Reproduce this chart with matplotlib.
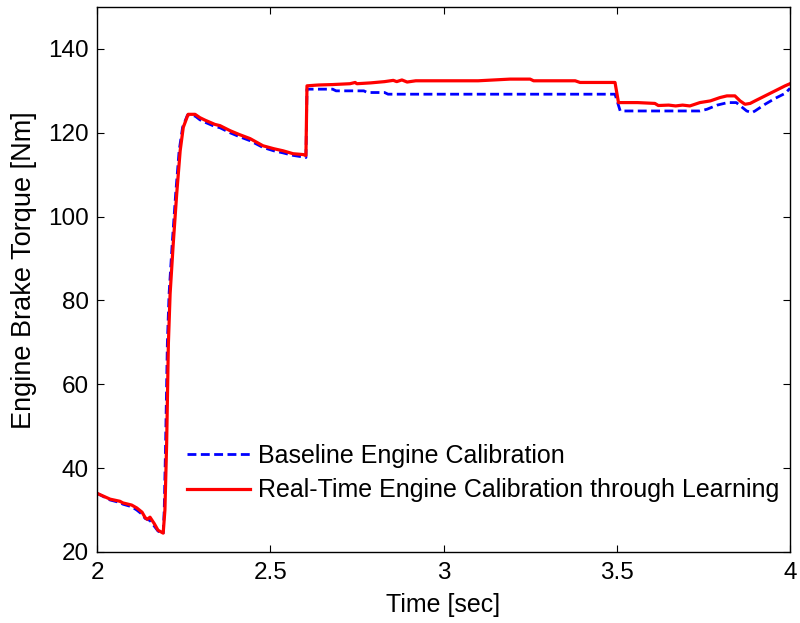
import matplotlib
matplotlib.use("Agg")
import matplotlib.pyplot as plt

# ---- data ----
t_real = [2.000, 2.038, 2.066, 2.075, 2.100, 2.115, 2.130, 2.139, 2.145, 2.153, 2.165, 2.176, 2.191,
          2.196, 2.201, 2.206, 2.211, 2.220, 2.230, 2.240, 2.249, 2.263, 2.283, 2.297, 2.312, 2.340,
          2.355, 2.384, 2.410, 2.442, 2.479, 2.510, 2.537, 2.566, 2.595, 2.603, 2.606, 2.640, 2.680,
          2.730, 2.745, 2.750, 2.790, 2.830, 2.855, 2.865, 2.880, 2.895, 2.920, 3.000, 3.100, 3.192,
          3.250, 3.260, 3.380, 3.394, 3.495, 3.505, 3.560, 3.610, 3.620, 3.650, 3.670, 3.690, 3.711,
          3.740, 3.770, 3.798, 3.818, 3.841, 3.856, 3.870, 3.885, 3.899, 3.928, 3.957, 3.986, 4.000]
v_real = [34.0, 32.6, 32.1, 31.7, 31.2, 30.5, 29.5, 28.2, 27.8, 28.3, 26.8, 25.2, 24.5,
          30.0, 45.9, 69.7, 81.6, 93.5, 105.4, 115.7, 121.3, 124.4, 124.4, 123.6, 123.0, 122.0,
          121.7, 120.5, 119.6, 118.6, 116.9, 116.2, 115.7, 115.0, 114.8, 114.6, 131.2, 131.4, 131.5,
          131.7, 132.0, 131.7, 131.9, 132.2, 132.5, 132.2, 132.6, 132.1, 132.4, 132.4, 132.4, 132.8,
          132.8, 132.4, 132.4, 132.0, 132.0, 127.2, 127.2, 127.0, 126.5, 126.6, 126.4, 126.6, 126.4,
          127.2, 127.6, 128.4, 128.8, 128.8, 127.6, 126.8, 127.0, 127.6, 128.8, 130.0, 131.2, 131.7]

t_base = [2.000, 2.038, 2.066, 2.075, 2.100, 2.115, 2.130, 2.139, 2.153, 2.165, 2.176, 2.191,
          2.194, 2.198, 2.203, 2.208, 2.217, 2.227, 2.237, 2.247, 2.261, 2.283, 2.297, 2.312, 2.340,
          2.355, 2.384, 2.410, 2.442, 2.479, 2.510, 2.537, 2.566, 2.597, 2.603, 2.606, 2.680, 2.690,
          2.770, 2.780, 2.830, 2.840, 3.495, 3.510, 3.740, 3.760, 3.790, 3.820, 3.845, 3.860, 3.875,
          3.890, 3.899, 3.928, 3.957, 3.986, 4.000]
v_base = [34.0, 32.4, 31.8, 31.4, 30.8, 30.0, 29.0, 28.0, 27.5, 26.2, 25.0, 24.3,
          30.0, 45.9, 69.7, 81.6, 93.5, 105.4, 115.7, 121.3, 124.2, 124.0, 123.1, 122.5, 121.5,
          121.2, 120.0, 119.1, 118.1, 116.5, 115.7, 115.2, 114.6, 114.2, 114.1, 130.4, 130.4, 130.0,
          130.0, 129.6, 129.6, 129.2, 129.2, 125.2, 125.2, 125.6, 126.6, 127.2, 127.2, 126.2, 125.2,
          124.8, 125.2, 126.8, 128.2, 129.4, 130.6]

label_base = "Baseline Engine Calibration"
label_real = "Real-Time Engine Calibration through Learning"
x_ticks = [2, 2.5, 3, 3.5, 4]
x_ticklabels = ["2", "2.5", "3", "3.5", "4"]
y_ticks = [20, 40, 60, 80, 100, 120, 140]

plt.rcParams['font.family'] = ['Liberation Sans', 'DejaVu Sans']

fig = plt.figure(figsize=(8.0, 6.23), dpi=100)
ax = fig.add_axes([97/800, 71/623, 693/800, 545/623])

ax.plot(t_base, v_base, color='#0000ff', linestyle=(0, (3.2, 1.6)), linewidth=2.0, label=label_base)
ax.plot(t_real, v_real, color='#ff0000', linestyle='-', linewidth=2.3, label=label_real)

ax.set_xlim(2, 4)
ax.set_ylim(20, 150)
ax.set_xticks(x_ticks)
ax.set_xticklabels(x_ticklabels)
ax.set_yticks(y_ticks)
ax.tick_params(direction='in', top=True, right=True, length=5, width=0.8,
               labelsize=17.5)
ax.tick_params(axis='x', pad=7)
ax.tick_params(axis='y', pad=6)
for s in ax.spines.values():
    s.set_linewidth(1.0)
    s.set_color('black')

ax.set_xlabel("Time [sec]", fontsize=18, labelpad=7)
ax.set_ylabel("Engine Brake Torque [Nm]", fontsize=19.5)
ax.yaxis.set_label_coords((37 - 97) / 693, (552 - 270) / 545)

ax.legend(loc='upper left', bbox_to_anchor=((187-97)/693, (552-444)/544), frameon=False,
          fontsize=18, handlelength=2.5, handletextpad=0.35, labelspacing=0.42,
          borderaxespad=0, borderpad=0)

fig.savefig("out.png", dpi=100)
